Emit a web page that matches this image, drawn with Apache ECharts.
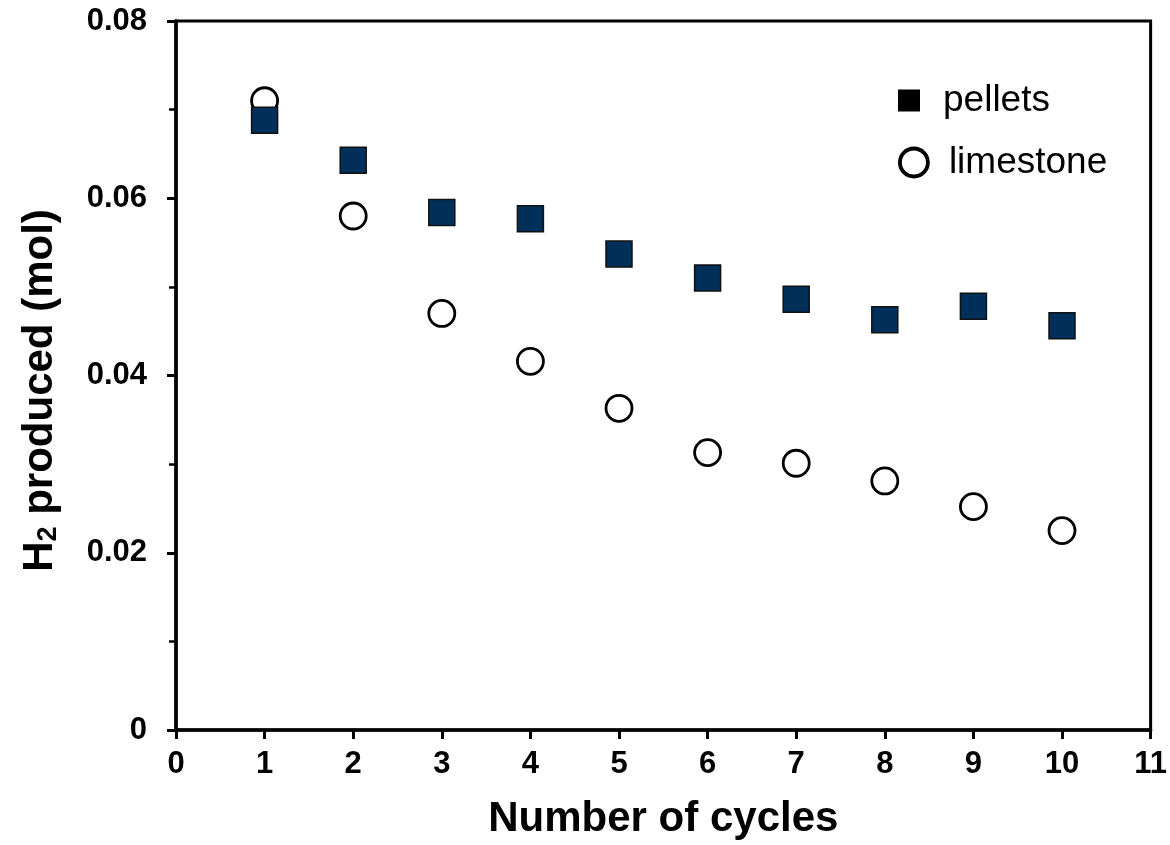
<!DOCTYPE html>
<html><head><meta charset="utf-8">
<script src="https://cdn.jsdelivr.net/npm/echarts@6/dist/echarts.min.js"></script>
<style>html,body{margin:0;padding:0;background:#fff}#c{width:1170px;height:845px}</style>
</head><body><div id="c"></div>
<script>
const cycles = [1,2,3,4,5,6,7,8,9,10];
const pellets = [0.0688,0.0643,0.0584,0.0577,0.0537,0.0510,0.0486,0.0463,0.0478,0.0456];
const limestone = [0.0710,0.0580,0.0470,0.0416,0.0363,0.0313,0.0301,0.0281,0.0252,0.0225];
const yTicks = ['0','0.02','0.04','0.06','0.08'];

const chart = echarts.init(document.getElementById('c'), null, {renderer:'canvas'});
const font = 'Liberation Sans, Arial, sans-serif';
chart.setOption({
  animation:false,
  backgroundColor:'#fff',
  grid:{left:176,right:19,top:21,bottom:114,show:true,borderColor:'#000',borderWidth:3,backgroundColor:'transparent'},
  xAxis:{type:'value',min:0,max:11,interval:1,
    name:'Number of cycles',nameLocation:'middle',nameGap:68,
    nameTextStyle:{fontFamily:font,fontWeight:'bold',fontSize:42,color:'#000'},
    axisLine:{show:true,lineStyle:{color:'#000',width:3.5}},
    axisTick:{show:true,inside:false,length:9,lineStyle:{color:'#000',width:3}},
    axisLabel:{fontFamily:font,fontWeight:'bold',fontSize:31,color:'#000',margin:19},
    splitLine:{show:false}},
  yAxis:{type:'value',min:0,max:0.08,interval:0.02,
    name:'{a|H}{s|2}{a| produced (mol)}',nameLocation:'middle',nameGap:114,nameRotate:90,
    nameTextStyle:{padding:[0,30,0,0],
      rich:{a:{fontFamily:font,fontWeight:'bold',fontSize:42,color:'#000'},
            s:{fontFamily:font,fontWeight:'bold',fontSize:27,color:'#000',verticalAlign:'bottom',padding:[16,0,0,0]}}},
    axisLine:{show:true,lineStyle:{color:'#000',width:3.5}},
    axisTick:{show:true,inside:false,length:9,lineStyle:{color:'#000',width:3}},
    minorTick:{show:true,splitNumber:2,length:7,lineStyle:{color:'#000',width:2.5}},
    axisLabel:{fontFamily:font,fontWeight:'bold',fontSize:31,color:'#000',margin:29,
      formatter:function(v){return yTicks[Math.round(v/0.02)];}},
    splitLine:{show:false}},
  legend:[
    {data:[{name:'pellets',icon:'rect',itemStyle:{color:'#000',borderWidth:0}}],left:893,top:77,itemWidth:22,itemHeight:22,
     textStyle:{fontFamily:font,fontSize:37,color:'#000',padding:[0,0,0,18]}},
    {data:[{name:'limestone',icon:'circle',itemStyle:{color:'#fff',borderColor:'#000',borderWidth:3.8}}],left:893,top:139,itemWidth:28,itemHeight:28,
     textStyle:{fontFamily:font,fontSize:37,color:'#000',padding:[0,0,0,16]}}
  ],
  series:[
    {name:'limestone',type:'scatter',symbol:'circle',symbolSize:26,
     data:cycles.map((c,i)=>[c,limestone[i]]),
     itemStyle:{color:'#fff',borderColor:'#000',borderWidth:2.8,opacity:1},z:2},
    {name:'pellets',type:'scatter',symbol:'rect',symbolSize:26,
     data:cycles.map((c,i)=>[c,pellets[i]]),
     itemStyle:{color:'#00305a',borderColor:'#111',borderWidth:1.5,opacity:1},z:3}
  ]
});
</script></body></html>
